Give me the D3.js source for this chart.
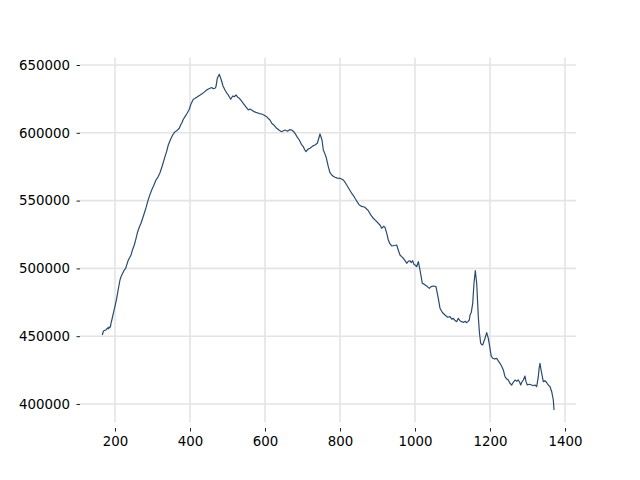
<!DOCTYPE html>
<html>
<head>
<meta charset="utf-8">
<script src="https://cdn.jsdelivr.net/npm/d3@7"></script>
<style>
html,body{margin:0;padding:0;background:#fff;}
svg{display:block;}
</style>
</head>
<body>
<svg id="chart" width="640" height="480"></svg>
<script>
const xValues = [166.1,169.3,172,175.2,178,180,182,184,186,188,189.3,192,195.5,200,204.5,209,213.3,216,219.5,224,228.5,232,235.5,239,242.7,247,251.5,256,260.5,265,269.3,274,278.1,283,287.2,292,297.9,303,309.3,315,320,326,333.3,338,342.1,348,353.9,359,364.5,368,371.5,375,377.9,382,386.7,392,398.1,403,408.8,413,417.9,424,431.2,438,444.5,449,453.3,458,462,466.7,469.3,472.8,478.1,483.5,488,493.3,498,502.1,508.5,513.9,518,522.7,527,531.5,536,540.5,548,555.5,560,564.5,571,577.9,585,591.2,598,604.5,609,613.3,617.9,624,631.2,638,644.5,649,653.3,660,666,671.2,676,680,686,691.5,697,702.1,706,709.3,714,720,727,733.3,739.5,746.7,752,755.5,759,762.7,768.8,773,777.9,782,786.7,793,800,808.8,813,817.9,825,831.2,836,840,846,851.5,858,866.7,871,875.5,882,888.8,896,902.1,907,911.2,916,920,925,928.8,933,937.9,945,951.2,956,960,965,968.8,974,977.9,982,986.7,990,993.9,997,1000,1004.5,1008.8,1013.3,1019.5,1025,1031.2,1035,1038.1,1043,1048.8,1056,1062.1,1066.7,1073,1080,1087,1093.3,1098,1102.1,1107,1111.2,1115.5,1120,1124.5,1130,1134,1137.9,1141,1144.8,1146.7,1150,1153.9,1157.3,1160.8,1164.5,1168.8,1172,1175.2,1178,1180.5,1183,1186.7,1191.2,1195.5,1200,1203,1207.2,1212,1217.9,1222,1226.7,1231,1235.5,1240,1244,1248.8,1253,1257.9,1262,1266.7,1271,1275.5,1279,1281.9,1285,1288.8,1293.3,1296,1299.5,1305,1311.2,1315,1320,1324.5,1328.8,1331,1333.3,1335.5,1337.9,1342.1,1346,1349.3,1355.5,1360,1364.5,1368.8,1370.7];
const yValues = [450888,453838,454200,454575,455300,456050,455500,456788,456200,457156,459516,462500,466891,472000,477954,485000,491450,493800,495875,498500,500079,503200,506200,507800,509888,514000,517263,522000,527071,530500,533266,537200,540641,545000,549196,553500,557825,561000,565200,567500,570584,575500,582384,586500,591013,595000,598388,600500,601559,602400,603329,605800,607016,609800,611884,614200,617341,621500,624716,625300,626191,627400,628625,630000,631575,632300,632829,633400,632500,632829,634009,640204,643154,638950,634500,631575,629300,627888,624716,627150,626600,627888,626300,625454,624000,622209,619500,616825,617500,616825,615600,614834,614200,613875,613000,611884,610500,609450,607016,605600,603329,601900,600821,601500,602075,601200,602300,602075,601000,599641,596800,594700,591500,589759,587500,586071,587800,588579,590200,591013,592266,599125,594700,587325,585000,582384,575009,570800,568888,567900,567191,566600,566454,565200,563700,561513,558200,555391,553600,551704,549000,546763,545700,545066,543800,542559,539500,536954,535000,533266,531800,529579,531000,530316,525500,520950,518200,516525,516900,517263,513000,509888,508500,507454,505500,503766,505200,505684,504200,505684,503000,502513,501259,504946,498825,489016,488200,487025,486000,485329,486600,487025,486509,477954,470579,467500,465638,464000,464384,462600,463204,461500,460696,463204,461400,460696,460200,461000,459959,460800,461950,465638,467500,474266,489016,498309,489016,464384,452000,444766,443800,443513,445500,448454,452584,448454,441079,435500,433704,433300,433704,431800,430016,427800,425075,420134,418600,417700,415300,414013,416000,417700,416800,417700,416000,414013,416200,417700,420650,416500,414013,414600,414013,413500,414013,412759,420134,426500,430016,426000,422641,416446,417200,416446,414013,412759,409071,402950,395575];
const xTicks = [200,400,600,800,1000,1200,1400];
const yTicks = [400000,450000,500000,550000,600000,650000];

const svg = d3.select("#chart");
const mLeft = 80, mRight = 576, mTop = 57.6, mBottom = 422.4;
const x = d3.scaleLinear().domain([106.7, 1429.3]).range([mLeft, mRight]);
const y = d3.scaleLinear().domain([386430, 655457]).range([mBottom, mTop]);

const grid = svg.append("g");
grid.selectAll("line.v").data(xTicks).enter().append("line").attr("class", "v")
  .attr("x1", d => x(d)).attr("x2", d => x(d))
  .attr("y1", mTop).attr("y2", mBottom)
  .attr("stroke", "#e4e4e4").attr("stroke-width", 1.6);
grid.selectAll("line.h").data(yTicks).enter().append("line").attr("class", "h")
  .attr("x1", mLeft).attr("x2", mRight)
  .attr("y1", d => y(d)).attr("y2", d => y(d))
  .attr("stroke", "#e4e4e4").attr("stroke-width", 1.6);

const xAxis = svg.append("g").attr("transform", "translate(0,428)")
  .call(d3.axisBottom(x).tickValues(xTicks).tickSize(3.5).tickPadding(5.5).tickFormat(d3.format("d")));
const yAxis = svg.append("g").attr("transform", "translate(80,0)")
  .call(d3.axisLeft(y).tickValues(yTicks).tickSize(3.5).tickPadding(6.5).tickFormat(d3.format("d")));
[xAxis, yAxis].forEach(a => {
  a.select(".domain").remove();
  a.selectAll(".tick line").attr("stroke", "#222").attr("stroke-width", 1);
  a.selectAll(".tick text").attr("fill", "#000")
    .style("font-family", "'DejaVu Sans', sans-serif").style("font-size", "13.33px");
});

const data = xValues.map((v, i) => [v, yValues[i]]);
svg.append("path").datum(data)
  .attr("fill", "none")
  .attr("stroke", "#2b4a70")
  .attr("stroke-width", 1.2)
  .attr("stroke-linejoin", "round")
  .attr("d", d3.line().x(d => x(d[0])).y(d => y(d[1])));
</script>
</body>
</html>
